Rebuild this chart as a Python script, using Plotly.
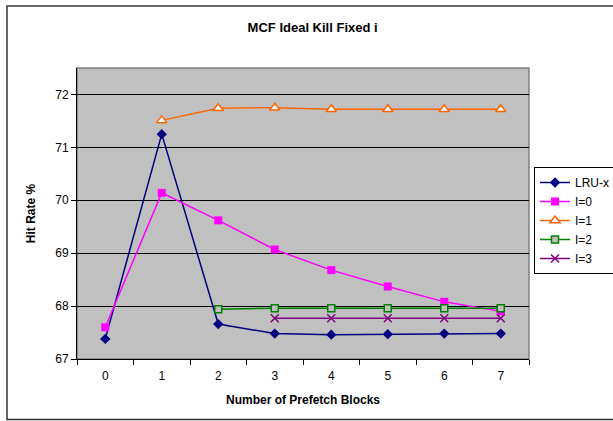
import plotly.graph_objects as go

# Prefetch block counts (categories on the x axis)
blocks = ["0", "1", "2", "3", "4", "5", "6", "7"]

# Hit rate (%) per policy; None where a series has no point
lru_x = [67.38, 71.25, 67.66, 67.48, 67.46, 67.47, 67.48, 67.48]
i0 = [67.60, 70.14, 69.62, 69.07, 68.68, 68.37, 68.08, 67.90]
i1 = [None, 71.51, 71.74, 71.75, 71.72, 71.72, 71.72, 71.72]
i2 = [None, None, 67.94, 67.96, 67.96, 67.96, 67.96, 67.96]
i3 = [None, None, None, 67.77, 67.77, 67.77, 67.77, 67.77]

W, H = 613, 421
L, R, T, B = 77, 84, 68, 62
pw, ph = W - L - R, H - T - B

fig = go.Figure()

fig.add_trace(go.Scatter(
    x=blocks, y=lru_x, name="LRU-x", mode="lines+markers",
    line=dict(color="#000080", width=1.5),
    marker=dict(symbol="diamond", size=8, color="#000080"),
))
fig.add_trace(go.Scatter(
    x=blocks, y=i0, name="I=0", mode="lines+markers",
    line=dict(color="#FF00FF", width=1.5),
    marker=dict(symbol="square", size=8, color="#FF00FF"),
))
fig.add_trace(go.Scatter(
    x=blocks, y=i1, name="I=1", mode="lines+markers",
    line=dict(color="#FF6600", width=1.5),
    marker=dict(symbol="triangle-up", size=9, color="white",
                line=dict(color="#FF6600", width=1.5)),
))
fig.add_trace(go.Scatter(
    x=blocks, y=i2, name="I=2", mode="lines+markers",
    line=dict(color="#008000", width=1.5),
    marker=dict(symbol="square", size=7, color="#C0C0C0",
                line=dict(color="#008000", width=1.5)),
))
fig.add_trace(go.Scatter(
    x=blocks, y=i3, name="I=3", mode="lines+markers",
    line=dict(color="#800080", width=1.5),
    marker=dict(symbol="x-thin", size=8, color="#800080",
                line=dict(color="#800080", width=1.5)),
))

# outer chart frame and gray plot-area frame, in paper coordinates
def px_x(x):
    return (x - L) / pw

def px_y(y):
    return (H - B - y) / ph

shapes = [
    dict(type="rect", xref="paper", yref="paper", layer="below",
         x0=px_x(7), x1=px_x(620), y0=px_y(419.5), y1=px_y(6),
         line=dict(color="#333333", width=1.5)),
    dict(type="rect", xref="paper", yref="paper", layer="below",
         x0=0, x1=1, y0=0, y1=1,
         line=dict(color="#808080", width=1.5)),
]

font = "Liberation Sans, Arial, sans-serif"

fig.update_layout(
    width=W, height=H,
    margin=dict(l=L, r=R, t=T, b=B, autoexpand=False),
    paper_bgcolor="white",
    plot_bgcolor="#C0C0C0",
    font=dict(family=font, size=12, color="black"),
    title=dict(text="<b>MCF Ideal Kill Fixed i</b>", x=0.51, xref="container",
               xanchor="center", y=1 - 27 / H, yanchor="middle",
               font=dict(size=13)),
    showlegend=True,
    legend=dict(x=px_x(534), y=px_y(167), xanchor="left", yanchor="top",
                bordercolor="black", borderwidth=1, bgcolor="white",
                font=dict(size=12), tracegroupgap=0, itemwidth=30),
    shapes=shapes,
)

fig.update_xaxes(
    type="category", range=[-0.5, 7.5],
    showline=True, linecolor="black", linewidth=1,
    ticks="outside", tickson="boundaries", ticklen=5, tickcolor="black",
    showgrid=False, zeroline=False,
    tickfont=dict(size=12), ticklabelstandoff=6,
    title=dict(text="<b>Number of Prefetch Blocks</b>", font=dict(size=12),
               standoff=13),
)
fig.update_yaxes(
    range=[67, 72.5], tickvals=[67, 68, 69, 70, 71, 72],
    showline=True, linecolor="black", linewidth=1,
    ticks="outside", ticklen=5, tickcolor="black",
    showgrid=True, gridcolor="black", gridwidth=1, zeroline=False,
    tickfont=dict(size=12),
    title=dict(text="<b>Hit Rate %</b>", font=dict(size=12), standoff=17),
)

fig.write_html("out.html")
